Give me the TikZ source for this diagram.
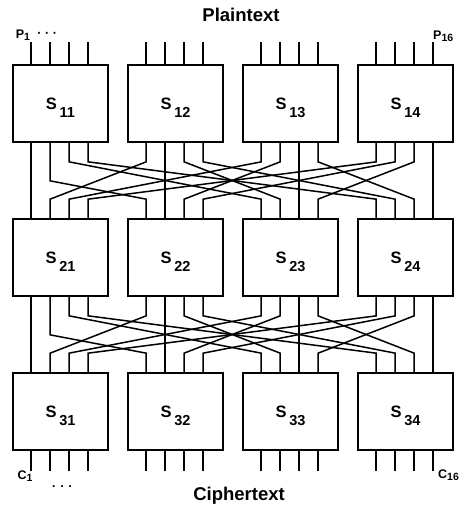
\documentclass[tikz,border=0pt]{standalone}
\usepackage{fontspec}
\setsansfont{Liberation Sans}
\usetikzlibrary{calc, positioning}
\newcommand{\slab}[1]{S\,\raisebox{-8pt}{\fontsize{14.5}{14.5}\selectfont #1}}
\newcommand{\pinlab}[2]{#1\raisebox{-2pt}{\fontsize{10.5}{10.5}\selectfont #2}}

\begin{document}
\begin{tikzpicture}[x=1pt,y=-1pt,
  sbox/.style={draw, line width=1.7pt, minimum width=95pt, minimum height=77pt, inner sep=0pt,
    text height=12pt, text depth=0pt, font=\sffamily\bfseries\fontsize{16.5}{16.5}\selectfont},
  wire/.style={line width=1.5pt},
  title/.style={font=\sffamily\bfseries\fontsize{18.5}{18.5}\selectfont, inner sep=0pt},
  pin/.style={font=\sffamily\bfseries\fontsize{12.5}{12.5}\selectfont, inner sep=0pt}]
\useasboundingbox (0,0) rectangle (462,512);
% three rounds of s-boxes, pins named t (top) and b (bottom)
\foreach \r/\yc in {1/103.5,2/257.5,3/411.5} {
  \foreach \i in {1,...,4} {
    \node[sbox] (s\r\i) at ({60.5+115*(\i-1)},\yc) {\slab{\r\i}};
    \foreach \j in {1,...,4} {
      \coordinate (t\r\i\j) at ($(s\r\i.north west)+({19*\j},0)$);
      \coordinate (b\r\i\j) at ($(s\r\i.south west)+({19*\j},0)$);
    }
  }
}
% plaintext in, ciphertext out
\foreach \i in {1,...,4} \foreach \j in {1,...,4} {
  \draw[wire] (t1\i\j) -- ++(0,-22);
  \draw[wire] (b3\i\j) -- ++(0,20);
}
% permutation: bit j of box i goes to bit i of box j
\foreach \r [evaluate=\r as \n using int(\r+1)] in {1,2} {
  \foreach \i in {1,...,4} \foreach \j in {1,...,4} {
    \pgfmathtruncatemacro\drop{(\i==1 && \j==2) ? 38 : 19}
    \ifnum\i=\j
      \draw[wire] (b\r\i\j) -- (t\n\j\i);
    \else
      \draw[wire] (b\r\i\j) -- ++(0,\drop) -- ($(t\n\j\i)+(0,-19)$) -- (t\n\j\i);
    \fi
  }
}
\node[title] (ptxt) at (241,15) {Plaintext};
\node[title] (ctxt) at (239,496) {Ciphertext};
\node[pin] (p1) at (23,35) {\pinlab{P}{1}};
\node[pin, right=7pt of p1] (pdots) {· · ·};
\node[pin, anchor=west] (p16) at (433,36) {\pinlab{P}{16}};
\node[pin] (c1) at (25,476) {\pinlab{C}{1}};
\node[pin] (cdots) at (62,487) {. . .};
\node[pin, anchor=west] (c16) at (438,475) {\pinlab{C}{16}};
\end{tikzpicture}
\end{document}
